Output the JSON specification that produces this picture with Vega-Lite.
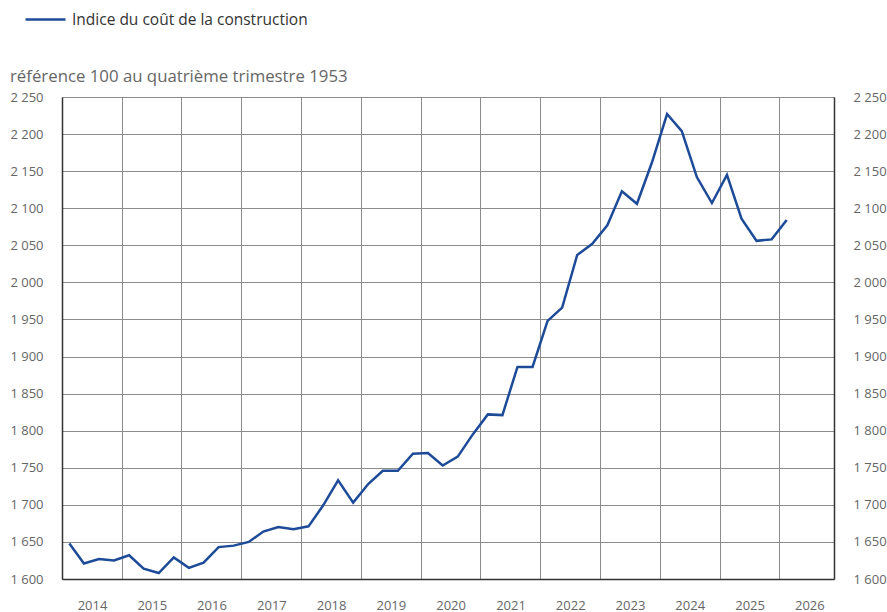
{
  "$schema": "https://vega.github.io/schema/vega-lite/v6.json",
  "autosize": "none",
  "width": 772,
  "height": 482,
  "padding": {"left": 62, "top": 97, "right": 53, "bottom": 33},
  "background": "white",
  "config": {
    "font": "Open Sans",
    "view": {"stroke": null}
  },
  "title": {
    "text": "référence 100 au quatrième trimestre 1953",
    "anchor": "start",
    "frame": "group",
    "dx": -52,
    "dy": 94,
    "offset": 6,
    "fontSize": 16.8,
    "fontWeight": "normal",
    "font": "Open Sans",
    "color": "#666666"
  },
  "data": {
    "values": [
      {"date": "2014-02-15", "valeur": 1648, "serie": "Indice du coût de la construction"},
      {"date": "2014-05-15", "valeur": 1621, "serie": "Indice du coût de la construction"},
      {"date": "2014-08-15", "valeur": 1627, "serie": "Indice du coût de la construction"},
      {"date": "2014-11-15", "valeur": 1625, "serie": "Indice du coût de la construction"},
      {"date": "2015-02-15", "valeur": 1632, "serie": "Indice du coût de la construction"},
      {"date": "2015-05-15", "valeur": 1614, "serie": "Indice du coût de la construction"},
      {"date": "2015-08-15", "valeur": 1608, "serie": "Indice du coût de la construction"},
      {"date": "2015-11-15", "valeur": 1629, "serie": "Indice du coût de la construction"},
      {"date": "2016-02-15", "valeur": 1615, "serie": "Indice du coût de la construction"},
      {"date": "2016-05-15", "valeur": 1622, "serie": "Indice du coût de la construction"},
      {"date": "2016-08-15", "valeur": 1643, "serie": "Indice du coût de la construction"},
      {"date": "2016-11-15", "valeur": 1645, "serie": "Indice du coût de la construction"},
      {"date": "2017-02-15", "valeur": 1650, "serie": "Indice du coût de la construction"},
      {"date": "2017-05-15", "valeur": 1664, "serie": "Indice du coût de la construction"},
      {"date": "2017-08-15", "valeur": 1670, "serie": "Indice du coût de la construction"},
      {"date": "2017-11-15", "valeur": 1667, "serie": "Indice du coût de la construction"},
      {"date": "2018-02-15", "valeur": 1671, "serie": "Indice du coût de la construction"},
      {"date": "2018-05-15", "valeur": 1699, "serie": "Indice du coût de la construction"},
      {"date": "2018-08-15", "valeur": 1733, "serie": "Indice du coût de la construction"},
      {"date": "2018-11-15", "valeur": 1703, "serie": "Indice du coût de la construction"},
      {"date": "2019-02-15", "valeur": 1728, "serie": "Indice du coût de la construction"},
      {"date": "2019-05-15", "valeur": 1746, "serie": "Indice du coût de la construction"},
      {"date": "2019-08-15", "valeur": 1746, "serie": "Indice du coût de la construction"},
      {"date": "2019-11-15", "valeur": 1769, "serie": "Indice du coût de la construction"},
      {"date": "2020-02-15", "valeur": 1770, "serie": "Indice du coût de la construction"},
      {"date": "2020-05-15", "valeur": 1753, "serie": "Indice du coût de la construction"},
      {"date": "2020-08-15", "valeur": 1765, "serie": "Indice du coût de la construction"},
      {"date": "2020-11-15", "valeur": 1795, "serie": "Indice du coût de la construction"},
      {"date": "2021-02-15", "valeur": 1822, "serie": "Indice du coût de la construction"},
      {"date": "2021-05-15", "valeur": 1821, "serie": "Indice du coût de la construction"},
      {"date": "2021-08-15", "valeur": 1886, "serie": "Indice du coût de la construction"},
      {"date": "2021-11-15", "valeur": 1886, "serie": "Indice du coût de la construction"},
      {"date": "2022-02-15", "valeur": 1948, "serie": "Indice du coût de la construction"},
      {"date": "2022-05-15", "valeur": 1966, "serie": "Indice du coût de la construction"},
      {"date": "2022-08-15", "valeur": 2037, "serie": "Indice du coût de la construction"},
      {"date": "2022-11-15", "valeur": 2052, "serie": "Indice du coût de la construction"},
      {"date": "2023-02-15", "valeur": 2077, "serie": "Indice du coût de la construction"},
      {"date": "2023-05-15", "valeur": 2123, "serie": "Indice du coût de la construction"},
      {"date": "2023-08-15", "valeur": 2106, "serie": "Indice du coût de la construction"},
      {"date": "2023-11-15", "valeur": 2162, "serie": "Indice du coût de la construction"},
      {"date": "2024-02-15", "valeur": 2227, "serie": "Indice du coût de la construction"},
      {"date": "2024-05-15", "valeur": 2204, "serie": "Indice du coût de la construction"},
      {"date": "2024-08-15", "valeur": 2142, "serie": "Indice du coût de la construction"},
      {"date": "2024-11-15", "valeur": 2107, "serie": "Indice du coût de la construction"},
      {"date": "2025-02-15", "valeur": 2145, "serie": "Indice du coût de la construction"},
      {"date": "2025-05-15", "valeur": 2086, "serie": "Indice du coût de la construction"},
      {"date": "2025-08-15", "valeur": 2056, "serie": "Indice du coût de la construction"},
      {"date": "2025-11-15", "valeur": 2058, "serie": "Indice du coût de la construction"},
      {"date": "2026-02-15", "valeur": 2084, "serie": "Indice du coût de la construction"}
    ]
  },
  "encoding": {
    "x": {
      "field": "date",
      "type": "temporal",
      "scale": {"domain": ["2014-01-01", "2026-12-01"], "nice": false},
      "axis": {
        "title": null,
        "format": "%Y",
        "tickCount": {"interval": "year", "step": 1},
        "grid": true,
        "gridColor": "#8c8c8c",
        "gridWidth": 1,
        "ticks": false,
        "domain": true,
        "domainColor": "#333333",
        "domainWidth": 1.5,
        "labelOffset": 30,
        "labelPadding": 20,
        "labelFlush": false,
        "labelFontSize": 13,
        "labelColor": "#666666",
        "labelFont": "Open Sans"
      }
    },
    "y": {
      "field": "valeur",
      "type": "quantitative",
      "scale": {"domain": [1600, 2250], "nice": false, "zero": false}
    }
  },
  "layer": [
    {
      "mark": {"type": "line", "strokeWidth": 2.5, "interpolate": "linear"},
      "encoding": {
        "y": {
          "field": "valeur",
          "type": "quantitative",
          "axis": {
            "orient": "left",
            "title": null,
            "values": [1600, 1650, 1700, 1750, 1800, 1850, 1900, 1950, 2000, 2050, 2100, 2150, 2200, 2250],
            "labelExpr": "replace(format(datum.value, ','), ',', ' ')",
            "grid": true,
            "gridColor": "#8c8c8c",
            "gridWidth": 1,
            "ticks": false,
            "domain": true,
            "domainColor": "#333333",
            "domainWidth": 1.5,
            "labelAlign": "right",
            "labelPadding": 19,
            "labelFontSize": 13,
            "labelColor": "#666666",
            "labelFont": "Open Sans"
          }
        },
        "color": {
          "field": "serie",
          "type": "nominal",
          "scale": {"range": ["#1d4b98"]},
          "legend": {
            "title": null,
            "orient": "none",
            "legendX": -38,
            "legendY": -99,
            "symbolType": "stroke",
            "symbolSize": 1600,
            "symbolStrokeWidth": 2.5,
            "labelFontSize": 15.5,
            "labelColor": "#333333",
            "labelFont": "Open Sans",
            "labelOffset": 5,
            "labelLimit": 0
          }
        }
      }
    },
    {
      "mark": {"type": "point", "opacity": 0},
      "encoding": {
        "y": {
          "field": "valeur",
          "type": "quantitative",
          "axis": {
            "orient": "right",
            "title": null,
            "values": [1600, 1650, 1700, 1750, 1800, 1850, 1900, 1950, 2000, 2050, 2100, 2150, 2200, 2250],
            "labelExpr": "replace(format(datum.value, ','), ',', ' ')",
            "grid": false,
            "ticks": false,
            "domain": true,
            "domainColor": "#333333",
            "domainWidth": 1.5,
            "labelAlign": "left",
            "labelPadding": 19,
            "labelFontSize": 13,
            "labelColor": "#666666",
            "labelFont": "Open Sans"
          }
        }
      }
    }
  ],
  "resolve": {"scale": {"y": "shared"}, "axis": {"y": "independent"}}
}
